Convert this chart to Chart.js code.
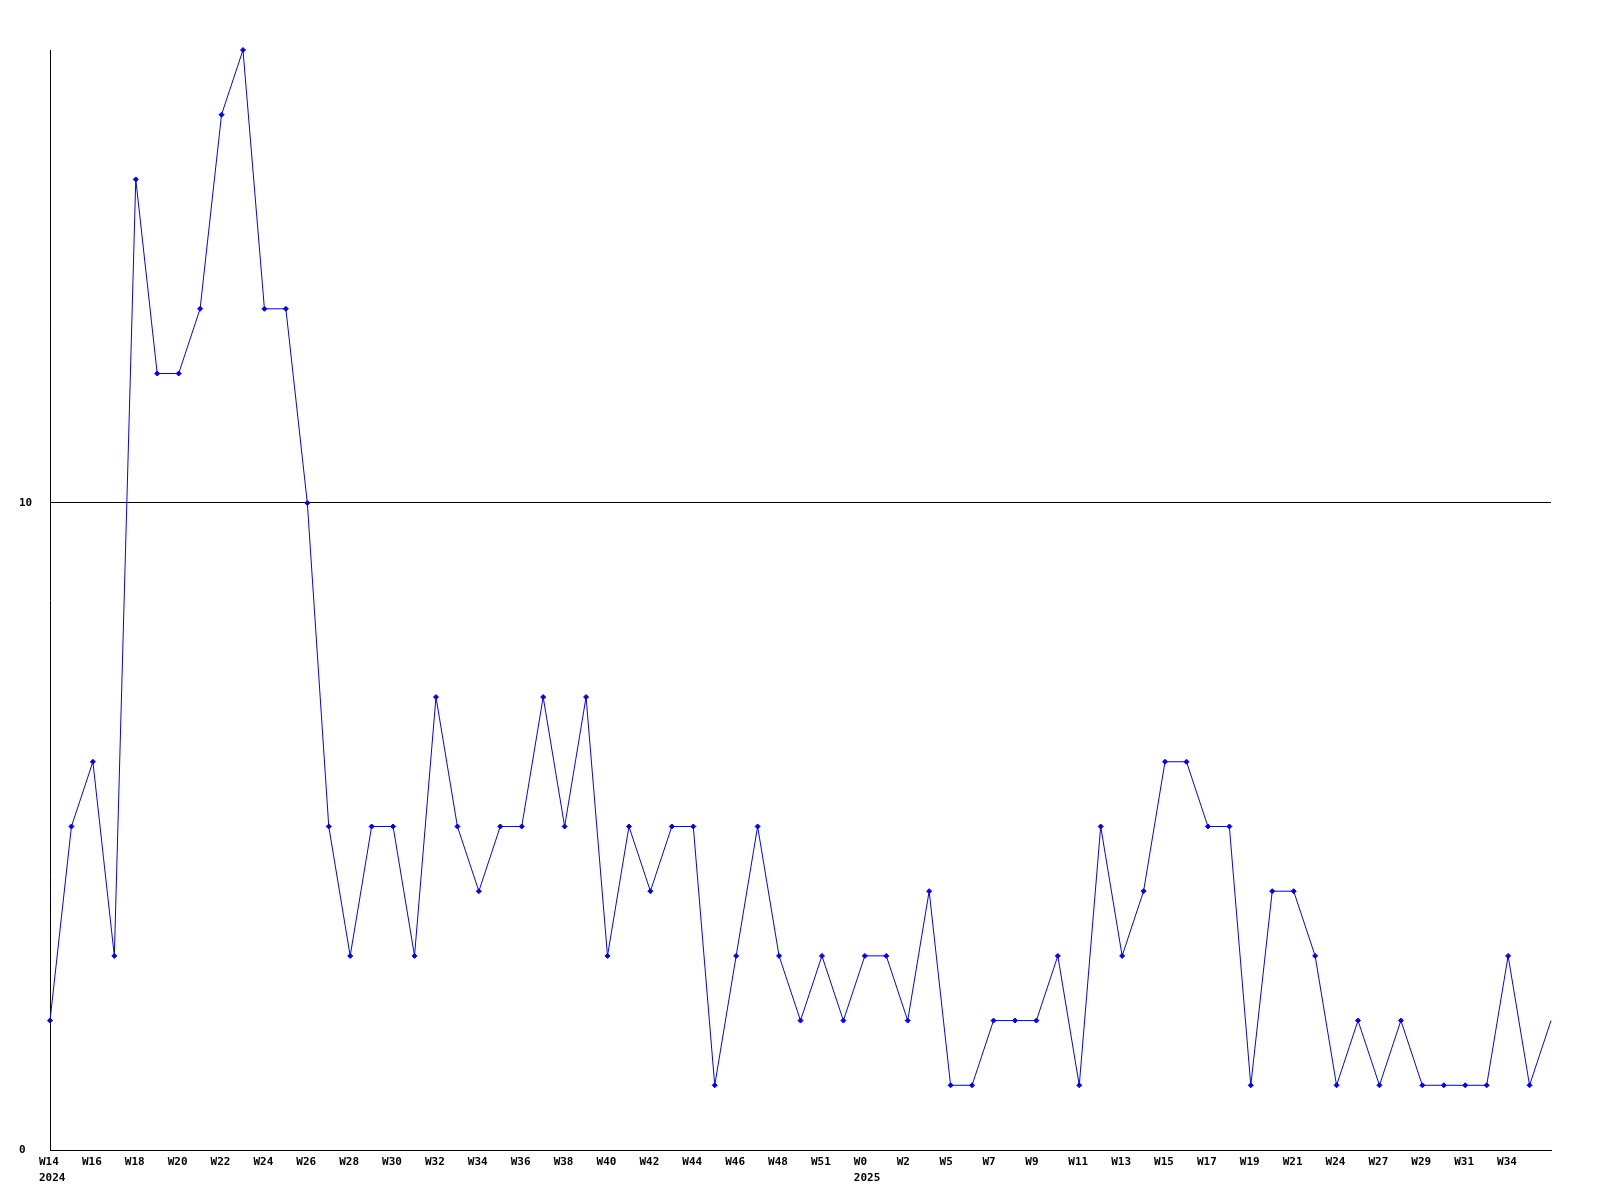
<!DOCTYPE html>
<html>
<head>
<meta charset="utf-8">
<script src="https://cdn.jsdelivr.net/npm/chart.js@4.4.0/dist/chart.umd.min.js"></script>
<style>
  html, body { margin: 0; padding: 0; background: #fff; }
  #wrap { width: 1600px; height: 1200px; }
</style>
</head>
<body>
<div id="wrap"><canvas id="chart-semanas"></canvas></div>
<script>
// semanas (categorias)
const semanas = [
  "W14", "W15", "W16", "W17", "W18", "W19", "W20", "W21", "W22", "W23",
  "W24", "W25", "W26", "W27", "W28", "W29", "W30", "W31", "W32", "W33",
  "W34", "W35", "W36", "W37", "W38", "W39", "W40", "W41", "W42", "W43",
  "W44", "W45", "W46", "W47", "W48", "W50", "W51", "W52", "W0", "W1",
  "W2", "W4", "W5", "W6", "W7", "W8", "W9", "W10", "W11", "W12",
  "W13", "W14", "W15", "W16", "W17", "W18", "W19", "W20", "W21", "W23",
  "W24", "W26", "W27", "W28", "W29", "W30", "W31", "W33", "W34", "W35",
  "W36"
];
// año debajo de la etiqueta (solo donde empieza)
const anios = { 0: "2024", 38: "2025" };

const valores = [
  2, 5, 6, 3, 15, 12, 12, 13, 16, 17,
  13, 13, 10, 5, 3, 5, 5, 3, 7, 5,
  4, 5, 5, 7, 5, 7, 3, 5, 4, 5,
  5, 1, 3, 5, 3, 2, 3, 2, 3, 3,
  2, 4, 1, 1, 2, 2, 2, 3, 1, 5,
  3, 4, 6, 6, 5, 5, 1, 4, 4, 3,
  1, 2, 1, 2, 1, 1, 1, 1, 3, 1,
  2
];

const ticksY = [0, 10];

const etiquetas = semanas.map((s, i) => (anios[i] ? [s, anios[i]] : s));

const fuente = { family: "'DejaVu Sans Mono', monospace", size: 11, weight: "bold", lineHeight: 1.45 };

const ctx = document.getElementById("chart-semanas").getContext("2d");
new Chart(ctx, {
  type: "line",
  data: {
    labels: etiquetas,
    datasets: [
      {
        data: valores,
        borderColor: "#0000ff",
        backgroundColor: "#0000ff",
        borderWidth: 1,
        pointStyle: "rectRot",
        // el ultimo punto queda en el borde, sin marcador
        pointRadius: (c) => (c.dataIndex === valores.length - 1 ? 0 : 2.5),
        pointBorderWidth: 1,
        tension: 0,
        fill: false,
        clip: false,
      },
    ],
  },
  options: {
    responsive: true,
    maintainAspectRatio: false,
    animation: false,
    devicePixelRatio: 1,
    layout: { padding: { left: 19, right: 49, top: 50, bottom: 0 } },
    plugins: {
      legend: { display: false },
      title: { display: false },
      tooltip: { enabled: false },
    },
    scales: {
      x: {
        offset: false,
        grid: { display: false, drawTicks: false },
        border: { display: true, color: "#000", width: 1 },
        ticks: {
          autoSkip: false,
          maxRotation: 0,
          minRotation: 0,
          align: "start",
          labelOffset: -11,
          padding: 4,
          color: "#000",
          font: fuente,
          callback: function (val, i) {
            if (i % 2 !== 0 || i === semanas.length - 1) return "";
            return etiquetas[i];
          },
        },
        afterFit: (scale) => { scale.height = 50; },
      },
      y: {
        min: 0,
        max: 17,
        afterBuildTicks: (scale) => {
          scale.ticks = ticksY.map((v) => ({ value: v }));
        },
        grid: { color: "#000", lineWidth: 1, drawTicks: false },
        border: { display: true, color: "#000", width: 1 },
        ticks: {
          crossAlign: "far",
          padding: 0,
          color: "#000",
          font: fuente,
        },
        afterFit: (scale) => { scale.width = 31; },
      },
    },
  },
});
</script>
</body>
</html>
